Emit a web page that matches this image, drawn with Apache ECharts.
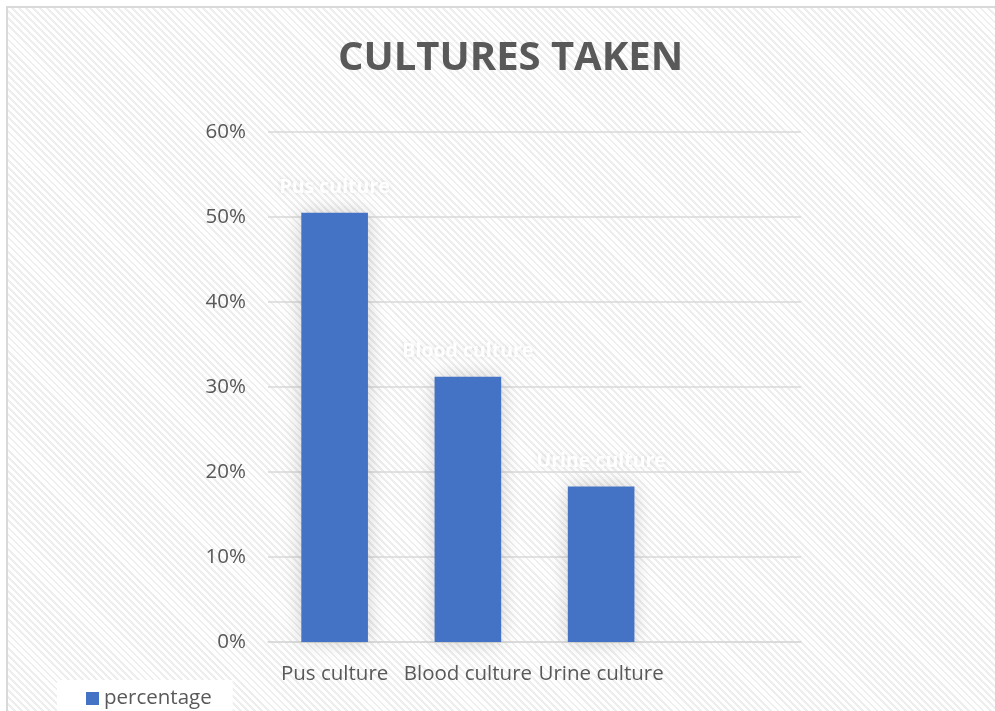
<!DOCTYPE html>
<html><head><meta charset="utf-8">
<script src="https://cdn.jsdelivr.net/npm/echarts@6/dist/echarts.min.js"></script>
<style>
html,body{margin:0;padding:0;background:#fff;}
#wrap{position:absolute;left:6px;top:6px;width:1000px;height:720px;border:2px solid #d9d9d9;box-sizing:border-box;
background:repeating-linear-gradient(45deg,#ffffff 0px,#ffffff 3px,#eeeeee 3px,#eeeeee 5px);}
#chart{position:absolute;left:0;top:0;width:995px;height:711px;}
</style></head>
<body>
<div id="wrap"></div>
<div id="chart"></div>
<script>
const categories = ["Pus culture", "Blood culture", "Urine culture", ""];
const percentage = [50.5, 31.2, 18.3, null];
const yTicks = [0, 10, 20, 30, 40, 50, 60];

const chart = echarts.init(document.getElementById('chart'));
chart.setOption({
  backgroundColor: 'transparent',
  animation: false,
  title: {
    text: 'CULTURES TAKEN', left: 338, top: 39, padding: 0,
    textStyle: {fontFamily: 'Open Sans', fontWeight: 'bold', fontSize: 40, color: '#595959'}
  },
  legend: {
    data: ['percentage'], left: 57, bottom: -6, backgroundColor: '#ffffff',
    padding: [8, 21, 8, 29], itemWidth: 13, itemHeight: 13, itemGap: 7,
    icon: 'rect',
    textStyle: {fontFamily: 'Open Sans', fontSize: 20.5, color: '#595959'}
  },
  grid: {left: 268, right: 194, top: 132, bottom: 69, containLabel: false},
  xAxis: {
    type: 'category', data: categories,
    axisLine: {lineStyle: {color: '#d9d9d9', width: 1.5}},
    axisTick: {show: false},
    axisLabel: {fontFamily: 'Open Sans', fontSize: 20.5, color: '#595959', margin: 22, interval: 0}
  },
  yAxis: {
    type: 'value', min: yTicks[0], max: yTicks[yTicks.length - 1], interval: 10,
    axisLine: {show: false}, axisTick: {show: false},
    splitLine: {lineStyle: {color: '#d9d9d9', width: 1.5}},
    axisLabel: {formatter: '{value}%', fontFamily: 'Open Sans', fontSize: 20.5, color: '#595959', margin: 22}
  },
  series: [{
    name: 'percentage', type: 'bar', data: percentage, barWidth: '50%',
    itemStyle: {color: '#4472c4', shadowColor: 'rgba(0,0,0,0.18)', shadowBlur: 18},
    label: {
      show: true, position: 'top', distance: 15,
      formatter: p => categories[p.dataIndex],
      fontFamily: 'Open Sans', fontSize: 19.5, fontWeight: 'bold', color: '#ffffff',
      textShadowColor: 'rgba(0,0,0,0.12)', textShadowBlur: 6
    }
  }]
});
</script>
</body></html>
